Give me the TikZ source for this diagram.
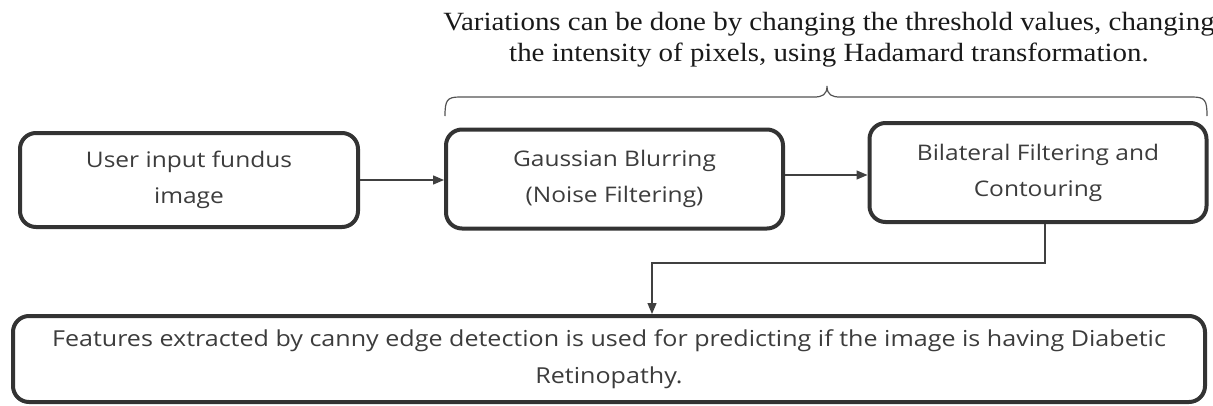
\documentclass[tikz,border=0pt]{standalone}
\usepackage{fontspec}
\setmainfont{Liberation Serif}[FakeStretch=1.1]
\newfontfamily\boxfont{Open Sans}[FakeStretch=1.14]
\usetikzlibrary{arrows.meta}
\definecolor{boxline}{HTML}{333333}
\definecolor{boxtext}{HTML}{3C3C3C}
\definecolor{conn}{HTML}{404040}
\tikzset{
  stagebox/.style={draw=boxline, line width=4pt, rounded corners=16pt, align=center,
     text=boxtext, font=\boxfont\fontsize{21.5}{36}\selectfont, inner sep=0pt},
  arr/.style={draw=conn, line width=1.3pt, -{Triangle[length=11pt,width=9pt]}},
  bracestyle/.style={draw=conn!90, line width=1.2pt},
  note/.style={align=center, text=black!90, font=\fontsize{26.3}{31}\selectfont, inner sep=0pt}
}
\begin{document}
\begin{tikzpicture}[x=1pt,y=-1pt]
\useasboundingbox (0,0) rectangle (1213,405);
\node[stagebox, minimum width=338pt, minimum height=94pt] (b1) at (189,180) {User input fundus\\image};
\node[stagebox, minimum width=337pt, minimum height=99pt] (b2) at (614.5,179) {Gaussian Blurring\\(Noise Filtering)};
\node[stagebox, minimum width=337pt, minimum height=99pt] (b3) at (1038,172.5) {Bilateral Filtering and\\Contouring};
\node[stagebox, minimum width=1192pt, minimum height=86pt, font=\boxfont\fontsize{22}{37}\selectfont] (b4) at (609,359) {Features extracted by canny edge detection is used for predicting if the image is having Diabetic\\Retinopathy.};
\draw[arr] (b1.east |- 0,180) -- (b2.west |- 0,180);
\draw[arr] (b2.east |- 0,175) -- (b3.west |- 0,175);
\coordinate (bend) at (652,263);
\draw[arr] ([xshift=7pt]b3.south) |- (bend) -- (bend |- b4.north);
\draw[bracestyle] (445,116) .. controls (445,100) and (447,97) .. (460,97) -- (814,97)
   .. controls (822,97) and (827,95) .. (827,86)
   .. controls (827,95) and (832,97) .. (840,97) -- (1192,97)
   .. controls (1205,97) and (1207,100) .. (1207,116);
\node[note] (txt) at (829,40) {Variations can be done by changing the threshold values, changing\\the intensity of pixels, using Hadamard transformation.};
\end{tikzpicture}
\end{document}
